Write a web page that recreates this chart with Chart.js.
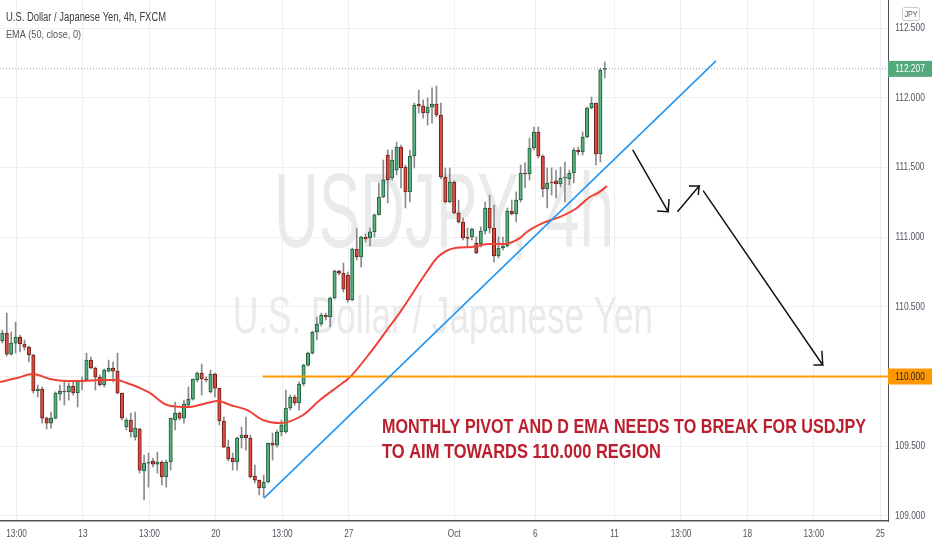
<!DOCTYPE html>
<html><head><meta charset="utf-8">
<script src="https://cdn.jsdelivr.net/npm/chart.js@4.4.1/dist/chart.umd.min.js"></script>
<style>html,body{margin:0;padding:0;background:#fff;}#wrap{width:932px;height:550px;position:relative;}</style>
</head><body><div id="wrap"><canvas id="c"></canvas></div>
<script>
// ---- data (USD/JPY 4h candles) ----
const openP = [110.255,110.311,110.161,110.240,110.283,110.233,110.211,110.154,109.896,109.910,
109.702,109.666,109.702,109.875,109.896,109.889,109.932,109.882,109.961,109.975,
110.118,110.061,109.996,109.939,110.039,110.061,110.039,109.882,109.638,109.688,
109.566,109.623,109.322,109.379,109.394,109.372,109.387,109.279,109.387,109.688,
109.738,109.702,109.795,109.838,109.975,110.025,109.982,109.889,110.018,109.917,
109.681,109.494,109.415,109.387,109.559,109.580,109.559,109.286,109.257,109.200,
109.243,109.523,109.508,109.602,109.602,109.774,109.853,109.810,109.946,110.082,
110.168,110.319,110.377,110.441,110.427,110.563,110.757,110.742,110.728,110.549,
110.915,110.857,111.001,110.994,111.037,111.159,111.288,111.589,111.424,111.481,
111.646,111.503,111.324,111.582,111.955,111.941,111.890,111.933,111.955,111.876,
111.431,111.252,111.395,111.173,111.108,111.001,111.001,110.958,110.951,111.044,
111.209,111.065,110.865,110.922,110.936,111.187,111.166,111.266,111.460,111.453,
111.639,111.754,111.582,111.345,111.395,111.403,111.381,111.424,111.417,111.460,
111.625,111.611,111.718,111.926,111.962,111.596,112.203];
const highP = [110.333,110.455,110.319,110.391,110.297,110.262,110.219,110.161,109.939,109.925,
109.709,109.745,109.889,109.939,109.961,109.954,109.961,109.975,109.997,110.168,
110.140,110.068,110.011,110.054,110.118,110.104,110.168,109.882,109.702,109.738,
109.745,109.630,109.436,109.451,109.415,109.458,109.394,109.401,109.702,109.817,
109.745,109.831,109.925,109.982,110.032,110.089,109.997,110.046,110.025,109.917,
109.709,109.544,109.451,109.566,109.638,109.709,109.580,109.365,109.257,109.293,
109.523,109.595,109.616,109.688,109.903,109.867,109.867,109.961,110.089,110.176,
110.326,110.427,110.455,110.455,110.570,110.764,110.764,110.814,110.750,110.922,
111.065,111.008,111.022,111.065,111.166,111.389,111.553,111.625,111.625,111.682,
111.661,111.517,111.625,111.962,112.055,111.984,111.998,112.070,112.084,111.962,
111.496,111.496,111.403,111.266,111.137,111.065,111.065,111.001,111.073,111.252,
111.302,111.230,111.001,111.001,111.209,111.266,111.324,111.518,111.532,111.711,
111.790,111.790,111.589,111.496,111.496,111.481,111.503,111.539,111.481,111.639,
111.646,111.754,111.933,112.005,111.962,112.213,112.256];
const lowP = [110.240,110.147,110.154,110.168,110.176,110.190,110.104,109.882,109.853,109.666,
109.623,109.630,109.695,109.831,109.795,109.831,109.867,109.781,109.903,109.968,
110.054,109.903,109.932,109.925,110.032,109.961,109.875,109.688,109.616,109.566,
109.544,109.307,109.114,109.207,109.351,109.307,109.221,109.207,109.329,109.616,
109.688,109.666,109.781,109.831,109.961,109.867,109.961,109.882,109.853,109.652,
109.490,109.394,109.329,109.329,109.487,109.472,109.272,109.236,109.150,109.135,
109.236,109.401,109.494,109.573,109.594,109.759,109.795,109.759,109.932,110.075,
110.161,110.262,110.362,110.405,110.355,110.556,110.728,110.606,110.534,110.542,
110.836,110.786,110.965,110.936,111.001,111.159,111.281,111.245,111.410,111.446,
111.352,111.209,111.252,111.496,111.890,111.854,111.804,111.818,111.862,111.420,
111.245,111.245,111.166,111.101,110.979,110.929,110.979,110.880,110.929,111.022,
111.030,110.821,110.850,110.907,110.929,111.159,111.108,111.252,111.352,111.410,
111.625,111.568,111.288,111.209,111.302,111.281,111.360,111.252,111.374,111.389,
111.589,111.589,111.711,111.919,111.517,111.539,112.142];
const closeP = [110.311,110.161,110.240,110.283,110.233,110.211,110.154,109.896,109.910,109.702,
109.666,109.702,109.882,109.896,109.889,109.932,109.882,109.968,109.975,110.118,
110.061,109.996,109.939,110.046,110.061,110.039,109.882,109.702,109.688,109.602,
109.630,109.329,109.379,109.387,109.372,109.387,109.279,109.387,109.702,109.738,
109.702,109.803,109.838,109.982,110.025,109.982,109.975,110.018,109.917,109.681,
109.494,109.408,109.387,109.559,109.580,109.559,109.279,109.257,109.200,109.243,
109.523,109.508,109.602,109.652,109.774,109.853,109.810,109.946,110.082,110.168,
110.319,110.377,110.441,110.427,110.563,110.757,110.742,110.627,110.549,110.915,
110.857,111.001,110.987,111.037,111.159,111.288,111.410,111.410,111.553,111.646,
111.496,111.324,111.582,111.948,111.941,111.890,111.933,111.955,111.876,111.431,
111.252,111.395,111.173,111.108,110.994,110.990,111.058,110.886,111.044,111.209,
111.065,110.865,110.922,110.936,111.187,111.166,111.266,111.460,111.453,111.639,
111.754,111.582,111.345,111.388,111.388,111.381,111.424,111.431,111.460,111.625,
111.611,111.718,111.926,111.962,111.596,112.199,112.207];

// EMA(50) line (candle index, price)
const emaIdx = [-0.53,3.31,6.92,10.76,14.6,18.2,22.05,25.9,28.1,31.1,33.3,37.2,41.9,46.2,48.7,51.4,55.2,58.8,62.7,67.9,71.7,75.6,78.5,83,86.8,89.8,96.1,98.3,102.2,106,109.6,113.5,116.9,118.4,122.1,125.9,129.7,132.6,134.5,136.5];
const emaVal = [109.961,109.989,110.018,109.982,109.968,109.968,109.975,109.975,109.953,109.917,109.882,109.796,109.781,109.810,109.825,109.796,109.760,109.688,109.666,109.724,109.831,109.925,109.997,110.169,110.333,110.462,110.764,110.857,110.922,110.929,110.951,110.951,110.994,111.037,111.102,111.145,111.209,111.288,111.317,111.367];

// time axis ticks (candle-index positions) and labels
const xTickPos = [3.2,18.2,33.2,48.2,63.2,78.2,102,120.3,138.2,153.2,168.2,183.2,198.2];
const xTickLabels = ['13:00','13','13:00','20','13:00','27','Oct','6','11','13:00','18','13:00','25'];
const yTicks = [109.0,109.5,110.0,110.5,111.0,111.5,112.0,112.5];

// drawings
const trendIdx = [59.07,161.1];
const trendVal = [109.128,112.264];
const pivotIdx = [58.8,199.93];
const pivotVal = [110.0,110.0];
const lastPrice = 112.207;
const arrow1Idx = [142.3,150.3,147.8,150.3,150.5];
const arrow1Val = [111.625,111.182,111.187,111.182,111.273];
const arrow2Idx = [152.4,157.3,155.0,157.3,157.1];
const arrow2Val = [111.182,111.367,111.367,111.367,111.302];
const arrow3Idx = [158.2,185.2,183.1,185.2,185.0];
const arrow3Val = [111.333,110.082,110.082,110.082,110.185];
const noteIdx = 85.7;
const noteVal = [109.595,109.416];
const noteLines = ['MONTHLY PIVOT AND D EMA NEEDS TO BREAK FOR USDJPY','TO AIM TOWARDS 110.000 REGION'];
const titleText = 'U.S. Dollar / Japanese Yen, 4h, FXCM';
const emaText = 'EMA (50, close, 0)';
const wmText1 = 'USDJPY, 4h';
const wmText2 = 'U.S. Dollar / Japanese Yen';

// ---- styling ----
const UP = '#56b07f', UP_B = '#1f5a36', DN = '#de4a40', DN_B = '#6b1f17', WICK = '#8a8a8e';
const AXIS_TXT = '#50535e';
const pts = (xs, ys) => xs.map((x, i) => ({x: x, y: ys[i]}));
const isUp = i => closeP[i] >= openP[i];

// draw text squeezed horizontally (the reference uses a narrow face)
function drawText(ctx, text, x, y, font, color, sx, align, baseline) {
  ctx.save();
  ctx.font = font;
  ctx.translate(x, y);
  ctx.scale(sx, 1);
  ctx.textAlign = align; ctx.textBaseline = baseline || 'alphabetic';
  ctx.fillStyle = color;
  ctx.fillText(text, 0, 0);
  ctx.restore();
}
function fitText(ctx, text, x, y, font, color, targetW, align) {
  ctx.save(); ctx.font = font; const w = ctx.measureText(text).width; ctx.restore();
  drawText(ctx, text, x, y, font, color, targetW / w, align);
}

const deco = {
  id: 'deco',
  beforeDatasetsDraw(chart) {
    const {ctx, chartArea: a} = chart;
    ctx.save();
    ctx.beginPath(); ctx.rect(a.left, a.top, a.right - a.left, a.bottom - a.top); ctx.clip();
    const cx = (a.left + a.right) / 2;
    fitText(ctx, wmText1, cx, a.top + 247, '105px "Liberation Sans", Arial', '#eaeaea', 340, 'center');
    fitText(ctx, wmText2, cx - 1, a.top + 333, '52px "Liberation Sans", Arial', '#eaeaea', 420, 'center');
    ctx.restore();
  },
  afterDatasetsDraw(chart) {
    const {ctx, scales: {x, y}} = chart;
    const px = x.getPixelForValue(noteIdx);
    fitText(ctx, noteLines[0], px, y.getPixelForValue(noteVal[0]), 'bold 21px "Liberation Sans", Arial', '#bb1e2d', 484, 'left');
    fitText(ctx, noteLines[1], px, y.getPixelForValue(noteVal[1]), 'bold 21px "Liberation Sans", Arial', '#bb1e2d', 279, 'left');
  },
  afterDraw(chart) {
    const {ctx, chartArea: a, scales: {x, y}} = chart;
    const W = chart.width;
    // axis tick labels from the library's own ticks/scales
    x.ticks.forEach((t, i) => {
      drawText(ctx, xTickLabels[i], x.getPixelForValue(t.value), a.bottom + 12.5, '11px "Liberation Sans", Arial', AXIS_TXT, 0.75, 'center', 'middle');
    });
    const axisMid = (a.right + W) / 2;
    y.ticks.forEach(t => {
      drawText(ctx, Number(t.value).toFixed(3), axisMid, y.getPixelForValue(t.value), '11px "Liberation Sans", Arial', AXIS_TXT, 0.76, 'center', 'middle');
    });
    // title + indicator legend
    fitText(ctx, titleText, a.left + 6, a.top + 21, '12px "Liberation Sans", Arial', '#3b3b3b', 160, 'left');
    fitText(ctx, emaText, a.left + 6, a.top + 37.5, '11.5px "Liberation Sans", Arial', '#555555', 75, 'left');
    // price tags
    const tag = (val, bg, fg) => {
      const py = y.getPixelForValue(val);
      ctx.save();
      ctx.fillStyle = bg; ctx.fillRect(a.right, py - 8, W - a.right, 16);
      ctx.restore();
      drawText(ctx, val.toFixed(3), axisMid, py, '11px "Liberation Sans", Arial', fg, 0.76, 'center', 'middle');
    };
    tag(lastPrice, '#53a97c', '#ffffff');
    tag(pivotVal[0], '#ff9800', '#222222');
    // currency box
    ctx.save();
    ctx.fillStyle = '#ffffff'; ctx.strokeStyle = '#c9c9c9'; ctx.lineWidth = 1;
    ctx.beginPath(); ctx.roundRect(902.5, 7.5, 17, 13, 2); ctx.fill(); ctx.stroke();
    ctx.restore();
    drawText(ctx, 'JPY', 911, 14.5, '9px "Liberation Sans", Arial', '#555555', 0.8, 'center', 'middle');
  }
};

const lineDs = (label, data, color, width, order, extra) => Object.assign({
  type: 'line', label, data, borderColor: color, borderWidth: width, pointRadius: 0,
  fill: false, tension: 0, order
}, extra || {});

new Chart(document.getElementById('c'), {
  type: 'bar',
  data: {
    datasets: [
      lineDs('arrow1', pts(arrow1Idx, arrow1Val), '#111111', 1.5, 0),
      lineDs('arrow2', pts(arrow2Idx, arrow2Val), '#111111', 1.5, 0),
      lineDs('arrow3', pts(arrow3Idx, arrow3Val), '#111111', 1.5, 0),
      lineDs('trend', pts(trendIdx, trendVal), '#2196f3', 1.6, 0),
      lineDs('pivot', pts(pivotIdx, pivotVal), '#ff9800', 2, 0),
      lineDs('EMA', pts(emaIdx, emaVal), '#ee4236', 2, 1, {cubicInterpolationMode: 'monotone'}),
      {
        type: 'bar', label: 'body', order: 2, grouped: false,
        data: openP.map((o, i) => ({x: i, y: [o, closeP[i]]})),
        barThickness: 3.4, minBarLength: 1, borderWidth: 1, borderSkipped: false,
        backgroundColor: c => isUp(c.dataIndex) ? UP : DN,
        borderColor: c => isUp(c.dataIndex) ? UP_B : DN_B
      },
      {
        type: 'bar', label: 'wick', order: 3, grouped: false,
        data: lowP.map((l, i) => ({x: i, y: [l, highP[i]]})),
        barThickness: 1, borderWidth: 0, backgroundColor: WICK
      },
      lineDs('last', pts([-0.53, 199.93], [lastPrice, lastPrice]), '#9a9ca3', 1, 4, {borderDash: [1, 2]})
    ]
  },
  options: {
    responsive: true, maintainAspectRatio: false, animation: false,
    layout: {padding: 0},
    plugins: {legend: {display: false}, tooltip: {enabled: false}},
    events: [],
    scales: {
      x: {
        type: 'linear', min: -0.526, max: 199.93, offset: false, position: 'bottom',
        grid: {color: '#eeeff2', drawTicks: false, offset: false},
        border: {display: true, color: '#4f525b', width: 1.5},
        ticks: {display: false, autoSkip: false},
        afterBuildTicks: s => { s.ticks = xTickPos.map(v => ({value: v})); },
        afterFit: s => { s.height = 29; s.paddingLeft = 0; s.paddingRight = 0; }
      },
      y: {
        type: 'linear', position: 'right', min: 108.9635, max: 112.7009,
        grid: {color: '#eeeff2', drawTicks: false},
        border: {display: true, color: '#4f525b', width: 1},
        ticks: {display: false},
        afterBuildTicks: s => { s.ticks = yTicks.map(v => ({value: v})); },
        afterFit: s => { s.width = 44; s.paddingTop = 0; s.paddingBottom = 0; }
      }
    }
  },
  plugins: [deco]
});
</script></body></html>
